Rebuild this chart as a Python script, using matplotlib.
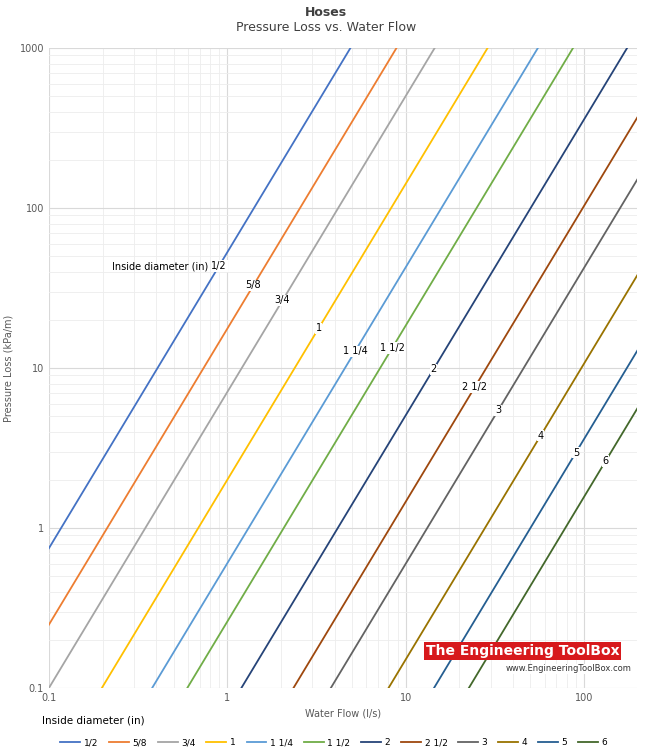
import numpy as np
import matplotlib.pyplot as plt
from matplotlib.ticker import FixedLocator, FixedFormatter, NullFormatter

sizes = ["1/2", "5/8", "3/4", "1", "1 1/4", "1 1/2", "2", "2 1/2", "3", "4", "5", "6"]
# flow (l/s) giving 1 kPa/m
flow_at_1kpa = [0.117, 0.212, 0.347, 0.687, 1.315, 2.07, 4.16, 8.15, 13.2, 27.8, 50.0, 78.4]
label_flow = [0.9, 1.4, 2.04, 3.25, 5.2, 8.4, 14.3, 24.4, 33, 57, 90, 132]
colors = ["#4472C4", "#ED7D31", "#A5A5A5", "#FFC000", "#5B9BD5", "#70AD47",
          "#264478", "#9E480E", "#636363", "#997300", "#255E91", "#43682B"]
exponent = 1.85

fig = plt.figure(figsize=(6.52, 7.52), dpi=100)
ax = fig.add_axes([0.075, 0.085, 0.902, 0.851])
q = np.logspace(-1, np.log10(200), 200)
for s, q1, lx, c in zip(sizes, flow_at_1kpa, label_flow, colors):
    ax.plot(q, (q / q1) ** exponent, color=c, lw=1.3, label=s)
    ly = (lx / q1) ** exponent
    ax.text(lx, ly, s, fontsize=7, ha="center", va="center",
            bbox=dict(facecolor="white", edgecolor="none", pad=0.5))
ax.text(0.42, 43, "Inside diameter (in)", fontsize=7, ha="center", va="center")
ax.set_xscale("log"); ax.set_yscale("log")
ax.set_xlim(0.1, 198); ax.set_ylim(0.1, 1000)
ax.xaxis.set_major_locator(FixedLocator([0.1, 1, 10, 100]))
ax.xaxis.set_major_formatter(FixedFormatter(["0.1", "1", "10", "100"]))
ax.yaxis.set_major_locator(FixedLocator([0.1, 1, 10, 100, 1000]))
ax.yaxis.set_major_formatter(FixedFormatter(["0.1", "1", "10", "100", "1000"]))
ax.xaxis.set_minor_formatter(NullFormatter()); ax.yaxis.set_minor_formatter(NullFormatter())
ax.grid(True, which="major", color="#d9d9d9", lw=0.8)
ax.grid(True, which="minor", color="#ededed", lw=0.6)
ax.tick_params(which="both", length=0, labelsize=7, colors="#595959")
for sp in ax.spines.values():
    sp.set_visible(False)
ax.set_xlabel("Water Flow (l/s)", fontsize=7, color="#595959")
ax.set_ylabel("Pressure Loss (kPa/m)", fontsize=7, color="#595959")
fig.text(0.5, 0.983, "Hoses", ha="center", va="center", fontsize=9, fontweight="bold", color="#404040")
fig.text(0.5, 0.964, "Pressure Loss vs. Water Flow", ha="center", va="center", fontsize=9, color="#404040")
fig.text(0.065, 0.042, "Inside diameter (in)", fontsize=7.5, va="center")
leg = fig.legend(loc="center left", bbox_to_anchor=(0.08, 0.012), ncol=12, frameon=False,
                 fontsize=6.5, handlelength=2.2, columnspacing=1.2, handletextpad=0.4)
ax.text(0.97, 0.058, "The Engineering ToolBox", transform=ax.transAxes, ha="right", va="center",
        fontsize=10, fontweight="bold", color="white", family="Liberation Sans Narrow",
        bbox=dict(facecolor="#d7191c", edgecolor="none", pad=1.5))
ax.text(0.99, 0.03, "www.EngineeringToolBox.com", transform=ax.transAxes, ha="right",
        va="center", fontsize=6, color="#333333",
        bbox=dict(facecolor="white", edgecolor="none", pad=0.5))
fig.savefig("out.png", dpi=100)
